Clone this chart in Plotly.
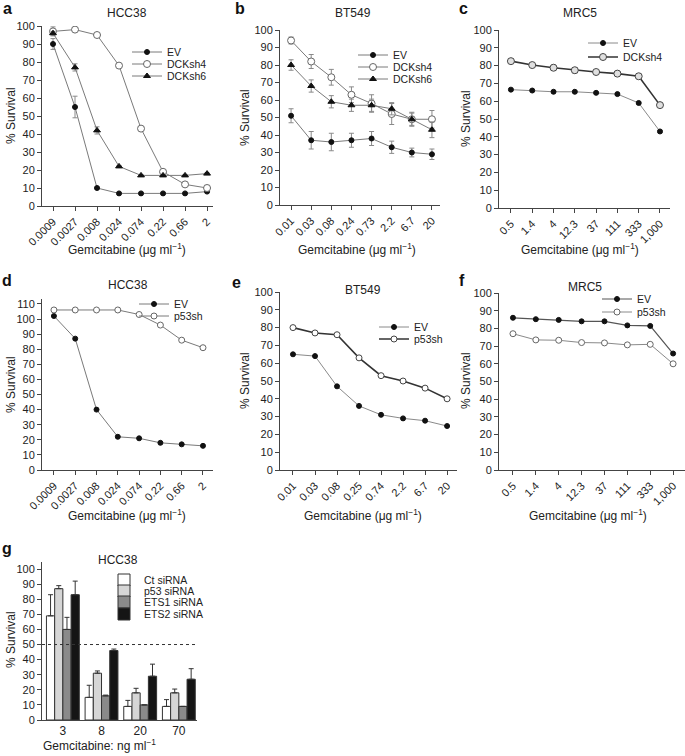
import plotly.graph_objects as go

# ---------------- data ----------------
conc_a = ["0.0009", "0.0027", "0.008", "0.024", "0.074", "0.22", "0.66", "2"]
a_ev = [90, 55, 10, 7, 7, 7, 7, 8]
a_ev_err = [3, 6, 0.5, 0.5, 0.5, 0.5, 0.5, 0.5]
a_sh4 = [97, 98, 95, 78, 43, 19, 12, 10]
a_sh4_err = [2.5, 1, 1, 1, 1, 1, 1, 1.5]
a_sh6 = [96, 77, 42, 22, 17, 17, 17, 18]
a_sh6_err = [1, 2, 2, 0.5, 0.5, 0.5, 0.5, 0.5]

conc_b = ["0.01", "0.03", "0.08", "0.24", "0.73", "2.2", "6.7", "20"]
b_ev = [51, 37, 36, 37, 38, 33, 30, 29]
b_ev_err = [4, 5, 5, 4, 4, 3.5, 2.5, 3]
b_sh4 = [94, 82, 73, 63, 58, 52, 49, 49]
b_sh4_err = [2, 4, 4.5, 4.5, 5, 6, 4, 5]
b_sh6 = [80, 68, 59, 57, 57, 55, 49, 43]
b_sh6_err = [3, 3.5, 3.5, 3.5, 3.5, 3.5, 3.5, 4.5]

conc_c = ["0.5", "1.4", "4", "12.3", "37", "111", "333", "1,000"]
c_ev = [66.5, 66, 65.3, 65.3, 64.7, 64, 59, 43]
c_ev_err = [0.5, 0.5, 0.5, 0.5, 0.5, 0.5, 0.5, 0.5]
c_sh4 = [82.5, 80.3, 78.8, 77.4, 76.4, 75.5, 74, 57.8]
c_sh4_err = [1.2, 0.8, 1.5, 1.5, 0.8, 0.8, 0.8, 0.8]

conc_d = ["0.0009", "0.0027", "0.008", "0.024", "0.074", "0.22", "0.66", "2"]
d_ev = [102, 87, 40, 22, 21, 18, 17, 16]
d_p53 = [106, 106, 106, 106, 103, 96, 86, 81]

conc_e = ["0.01", "0.03", "0.08", "0.25", "0.74", "2.2", "6.7", "20"]
e_ev = [65, 64, 47, 36, 31, 29, 27.7, 24.7]
e_p53 = [80, 77, 76, 63, 53, 50, 46, 40]

conc_f = ["0.5", "1.4", "4", "12.3", "37", "111", "333", "1,000"]
f_ev = [86, 85.2, 84.8, 84, 84, 81.7, 81.4, 65.8]
f_p53 = [77, 73.5, 73.3, 72, 71.8, 70.7, 71, 60]

conc_g = ["3", "8", "20", "70"]
g_names = ["Ct siRNA", "p53 siRNA", "ETS1 siRNA", "ETS2 siRNA"]
g_vals = [[69, 15, 9, 9], [87, 31, 18, 18], [60, 16, 10, 9], [83, 46, 29, 27]]
g_errs = [[14, 8, 4, 4.5], [2, 1.5, 3, 2.5], [8, 0.5, 0, 0], [9, 1, 8, 7]]
g_colors = ["#ffffff", "#d6d6d6", "#8a8a8a", "#151515"]

FONT = "Liberation Sans, Arial, Helvetica, sans-serif"
TXT = "#222222"
AX = "#444444"
W, H = 685, 756

fig = go.Figure()

LINE_LIGHT = "#7a7a7a"
LINE_DARK = "#333333"
ERR = "#8a8a8a"

legend_slots = []  # (legend id, text x px, row centre px)


def next_legend(text_x, row_y):
    idx = len(legend_slots) + 1
    lid = "legend" if idx == 1 else "legend%d" % idx
    legend_slots.append((lid, text_x, row_y))
    return lid


def add_line(xs, ys, name, axis, leg, symbol, fill, edge, size, lcolor, lwidth, err=None):
    kw = {}
    if err is not None:
        kw["error_y"] = dict(type="data", array=err, color=ERR, thickness=1, width=2.5)
    fig.add_trace(go.Scatter(
        x=xs, y=ys, name=name, mode="lines+markers", showlegend=True,
        xaxis="x" + axis, yaxis="y" + axis, legend=next_legend(*leg),
        line=dict(color=lcolor, width=lwidth),
        marker=dict(symbol=symbol, color=fill, size=size, line=dict(color=edge, width=1)),
        **kw))


# a
add_line(conc_a, a_ev, "EV", "", (167, 52), "circle", "#111", "#111", 5, LINE_LIGHT, 1, a_ev_err)
add_line(conc_a, a_sh4, "DCKsh4", "", (167, 64), "circle", "#ffffff", "#666", 7, LINE_LIGHT, 1, a_sh4_err)
add_line(conc_a, a_sh6, "DCKsh6", "", (167, 76), "triangle-up", "#111", "#111", 6, LINE_LIGHT, 1, a_sh6_err)
# b
add_line(conc_b, b_ev, "EV", "2", (393, 55), "circle", "#111", "#111", 5, LINE_LIGHT, 1, b_ev_err)
add_line(conc_b, b_sh4, "DCKsh4", "2", (393, 67), "circle", "#ffffff", "#666", 7, LINE_LIGHT, 1, b_sh4_err)
add_line(conc_b, b_sh6, "DCKsh6", "2", (393, 79), "triangle-up", "#111", "#111", 6, LINE_LIGHT, 1, b_sh6_err)
# c
add_line(conc_c, c_ev, "EV", "3", (623, 43), "circle", "#111", "#111", 5, "#8a8a8a", 1, c_ev_err)
add_line(conc_c, c_sh4, "DCKsh4", "3", (623, 57), "circle", "#e0e0e0", "#444", 7, LINE_DARK, 1.6, c_sh4_err)
# d
add_line(conc_d, d_ev, "EV", "4", (174, 304), "circle", "#111", "#111", 5, LINE_LIGHT, 1)
add_line(conc_d, d_p53, "p53sh", "4", (174, 316), "circle", "#ffffff", "#666", 6, LINE_LIGHT, 1)
# e
add_line(conc_e, e_ev, "EV", "5", (414, 327), "circle", "#111", "#111", 5, "#8a8a8a", 1)
add_line(conc_e, e_p53, "p53sh", "5", (414, 339), "circle", "#ffffff", "#444", 6, LINE_DARK, 1.6)
# f
add_line(conc_f, f_ev, "EV", "6", (637, 299), "circle", "#111", "#111", 5, "#555555", 1.2)
add_line(conc_f, f_p53, "p53sh", "6", (637, 312), "circle", "#ffffff", "#666", 6, "#8a8a8a", 1)

# g bars
g_rows = [580, 591, 602, 614]
for name, vals, errs, col, ry in zip(g_names, g_vals, g_errs, g_colors, g_rows):
    fig.add_trace(go.Bar(
        x=conc_g, y=vals, name=name, xaxis="x7", yaxis="y7", legend=next_legend(144, ry),
        showlegend=True,
        marker=dict(color=col, line=dict(color="#333", width=1)),
        error_y=dict(type="data", array=errs, arrayminus=[0] * len(errs), symmetric=False,
                     color="#333", thickness=1, width=2.5)))


def px_x(p):
    return p / W


def px_y(p):
    return 1 - p / H


axis_common = dict(showline=True, linecolor=AX, linewidth=1, ticks="outside", ticklen=4,
                   tickcolor=AX, tickwidth=1, showgrid=False, zeroline=False,
                   tickfont=dict(size=11, color=TXT, family=FONT))

panels = [
    # suffix, x0px, x1px, ytop_px, ybot_px, xrange, yrange
    ("", 42, 213, 26, 206, [-0.5, 7.27], [0, 100]),
    ("2", 280, 440, 30, 205, [-0.55, 7.4], [0, 100]),
    ("3", 499, 670, 30, 208, [-0.56, 7.47], [0, 100]),
    ("4", 42, 213, 299.4, 470, [-0.56, 7.47], [0, 113]),
    ("5", 280, 457, 292, 470, [-0.59, 7.45], [0, 100]),
    ("6", 499, 685, 293, 470, [-0.61, 7.52], [0, 100]),
    ("7", 42, 197, 561.5, 720, [-0.54, 3.47], [0, 105]),
]

layout = dict(
    width=W, height=H, margin=dict(l=0, r=0, t=0, b=0, autoexpand=False),
    paper_bgcolor="white", plot_bgcolor="rgba(0,0,0,0)", showlegend=True,
    font=dict(family=FONT, size=11, color=TXT),
    bargap=0.15, bargroupgap=0, barmode="group",
)

for suf, x0, x1, yt, yb, xr, yr in panels:
    xa = dict(axis_common, domain=[px_x(x0), px_x(x1)], range=xr, type="category",
              anchor="y" + suf, tickangle=-45 if suf != "7" else 0, automargin=False)
    if suf == "7":
        xa["ticks"] = ""
        xa["tickfont"] = dict(size=12, color=TXT, family=FONT)
    ya = dict(axis_common, domain=[px_y(yb), px_y(yt)], range=yr, anchor="x" + suf,
              tickmode="linear", tick0=0, dtick=10, automargin=False)
    layout["xaxis" + suf] = xa
    layout["yaxis" + suf] = ya

for lid, tx, ry in legend_slots:
    layout[lid] = dict(bgcolor="rgba(0,0,0,0)", font=dict(size=10.5, color=TXT, family=FONT),
                       xanchor="left", yanchor="middle", itemwidth=30, borderwidth=0,
                       x=px_x(tx - 40), y=px_y(ry), visible=True)

fig.update_layout(**layout)

# titles, panel letters, axis titles
ann = []


def add_text(t, x, y, size, angle=0, color=TXT):
    ann.append(dict(text=t, x=px_x(x), y=px_y(y), xref="paper", yref="paper", showarrow=False,
                    xanchor="center", yanchor="middle", textangle=angle,
                    font=dict(size=size, color=color, family=FONT)))


titles = [("HCC38", 127, 13), ("BT549", 353, 13), ("MRC5", 580, 13),
          ("HCC38", 128, 285), ("BT549", 363, 290), ("MRC5", 585, 287), ("HCC38", 118, 560)]
for t, x, y in titles:
    add_text(t, x, y, 12)
letters = [("a", 7, 8), ("b", 240, 8), ("c", 463, 8), ("d", 7, 280), ("e", 236, 282),
           ("f", 462, 280), ("g", 7, 548)]
for t, x, y in letters:
    add_text("<b>" + t + "</b>", x, y, 16, color="#111")
ytitles = [(11, 116), (245, 118), (466, 119), (11, 385), (245, 381), (466, 381), (11, 640)]
for x, y in ytitles:
    add_text("% Survival", x, y, 12, angle=-90)
xtitles = [("Gemcitabine (μg ml<sup>−1</sup>)", 127, 249), ("Gemcitabine (μg ml<sup>−1</sup>)", 357, 249),
           ("Gemcitabine (μg ml<sup>−1</sup>)", 580, 249), ("Gemcitabine (μg ml<sup>−1</sup>)", 127, 515),
           ("Gemcitabine (μg ml<sup>−1</sup>)", 363, 515), ("Gemcitabine (μg ml<sup>−1</sup>)", 588, 515),
           ("Gemcitabine: ng ml<sup>−1</sup>", 100, 745)]
for t, x, y in xtitles:
    add_text(t, x, y, 12)
fig.update_layout(annotations=ann)

# dotted 50% line in panel g
fig.add_shape(type="line", xref="x7 domain", x0=0, x1=1, yref="y7", y0=50, y1=50,
              line=dict(color="#333", width=1, dash="dot"))

fig.write_html("out.html", config={"displayModeBar": False},
               post_script="document.body.style.margin='0';document.body.style.padding='0';")
